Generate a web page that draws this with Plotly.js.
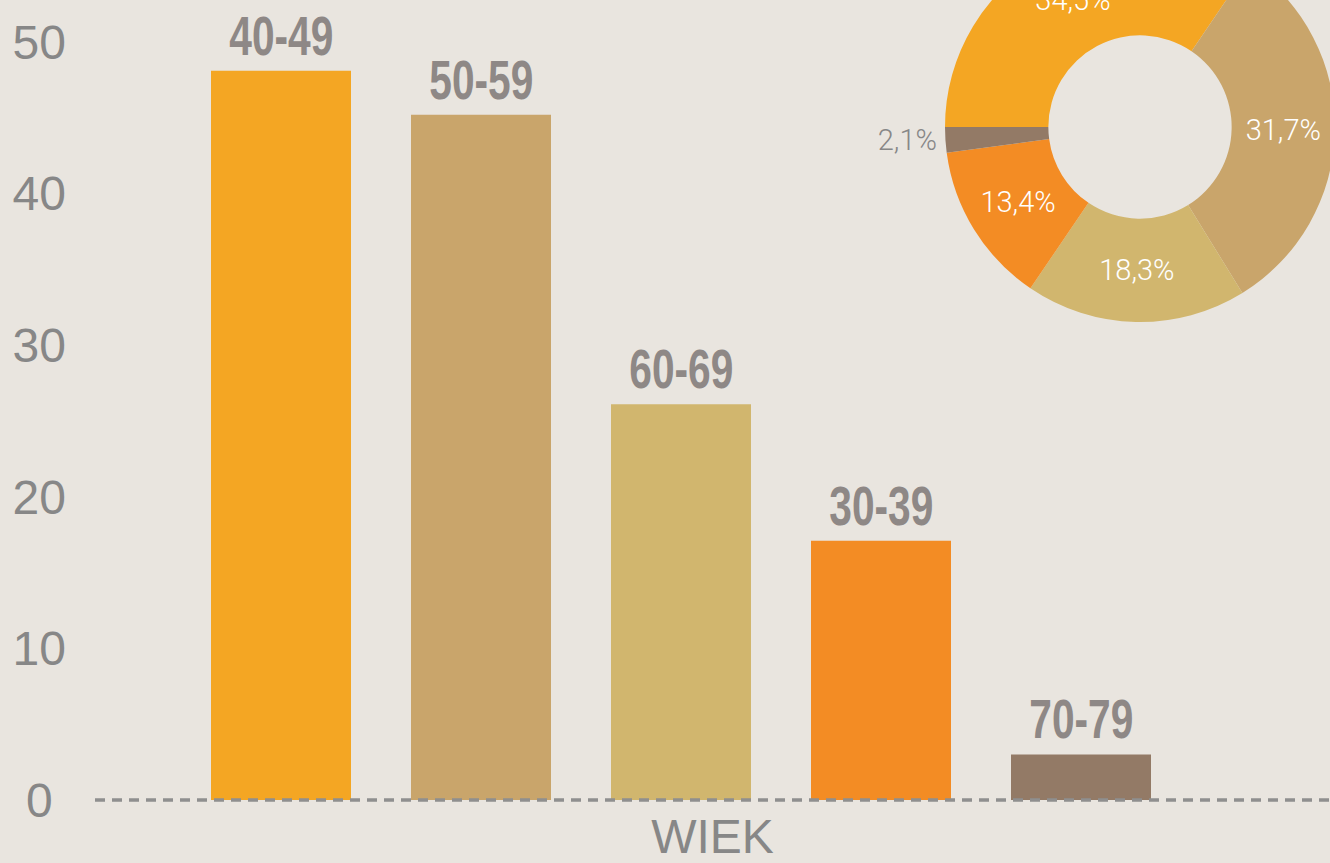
<!DOCTYPE html>
<html>
<head>
<meta charset="utf-8">
<script src="https://cdn.plot.ly/plotly-3.0.1.min.js"></script>
<style>
html, body { margin:0; padding:0; overflow:hidden; background:#e9e5df; }
#bars { position:absolute; left:0; top:0; width:1330px; height:863px; }
#donut { position:absolute; left:840px; top:-173px; width:600px; height:600px; }
#bars .annotation-text {
  transform: scaleX(0.74);
  transform-box: fill-box;
  transform-origin: center;
}
</style>
</head>
<body>
<div id="bars"></div>
<div id="donut"></div>
<script>
// Bar chart data
const categories = ['40-49', '50-59', '60-69', '30-39', '70-79'];
const counts = [48.1, 45.2, 26.1, 17.1, 3.0];
const barColors = ['#f4a623', '#c9a56b', '#d1b66e', '#f38c24', '#937a66'];
const yTickVals = [0, 10, 20, 30, 40, 50];
const yTickText = ['0\u2008', '10', '20', '30', '40', '50'];
const xTitle = 'WIEK';

// Donut data
const donutLabels = ['40-49', '50-59', '60-69', '30-39', '70-79'];
const donutShares = [34.5, 31.7, 18.3, 13.4, 2.1];
const donutColors = ['#f4a623', '#c9a56b', '#d1b66e', '#f38c24', '#937a66'];
const donutTextPos = ['inside', 'inside', 'inside', 'inside', 'outside'];

const BG = '#e9e5df';
const GREY = '#878787';
const LABEL_GREY = '#8e8886';

const barTrace = {
  type: 'bar',
  x: categories,
  y: counts,
  marker: { color: barColors, line: { width: 0 } },
  hoverinfo: 'x+y'
};

const annotations = categories.map((c, i) => ({
  x: c, y: counts[i], xref: 'x', yref: 'y',
  text: '<b>' + c + '</b>',
  showarrow: false, yanchor: 'bottom', yshift: 2,
  font: { family: '"Liberation Sans", Arial, sans-serif', size: 55, color: LABEL_GREY }
}));

const barLayout = {
  width: 1330, height: 863,
  margin: { l: 95, r: 0, t: 0, b: 60 },
  paper_bgcolor: BG, plot_bgcolor: BG,
  bargap: 0.3,
  showlegend: false,
  xaxis: {
    type: 'category',
    range: [-0.93, 5.245],
    showticklabels: false, showgrid: false, zeroline: false, showline: false, ticks: '',
    automargin: false,
    title: { text: xTitle, standoff: 27, font: { family: '"Liberation Sans", Arial, sans-serif', size: 48, color: GREY } }
  },
  yaxis: {
    range: [-0.2, 52.77],
    tickvals: yTickVals, ticktext: yTickText,
    showgrid: false, zeroline: false, showline: false, ticks: '',
    automargin: false,
    ticklabelstandoff: 28,
    tickfont: { family: '"Liberation Sans", Arial, sans-serif', size: 48, color: GREY }
  },
  shapes: [{
    type: 'line', xref: 'paper', yref: 'y', x0: 0, x1: 1, y0: 0, y1: 0,
    layer: 'above',
    line: { color: '#8f8f8f', width: 3.5, dash: '10px,7px' }
  }],
  annotations: annotations
};

Plotly.newPlot('bars', [barTrace], barLayout, { displayModeBar: false, staticPlot: true });

const donutTrace = {
  type: 'pie',
  labels: donutLabels,
  values: donutShares,
  marker: { colors: donutColors, line: { width: 0 } },
  hole: 0.47,
  sort: false,
  direction: 'clockwise',
  rotation: -90,
  textinfo: 'percent',
  textposition: donutTextPos,
  insidetextorientation: 'horizontal',
  insidetextfont: { family: 'Roboto, sans-serif', weight: 300, size: 29, color: '#ffffff' },
  outsidetextfont: { family: 'Roboto, sans-serif', weight: 300, size: 29, color: GREY },
  domain: { x: [0.175, 0.825], y: [0.175, 0.825] },
  automargin: false,
  hoverinfo: 'label+percent'
};

const donutLayout = {
  width: 600, height: 600,
  margin: { l: 0, r: 0, t: 0, b: 0 },
  paper_bgcolor: 'rgba(0,0,0,0)',
  separators: ', ',
  showlegend: false
};

Plotly.newPlot('donut', [donutTrace], donutLayout, { displayModeBar: false, staticPlot: true });
</script>
</body>
</html>
